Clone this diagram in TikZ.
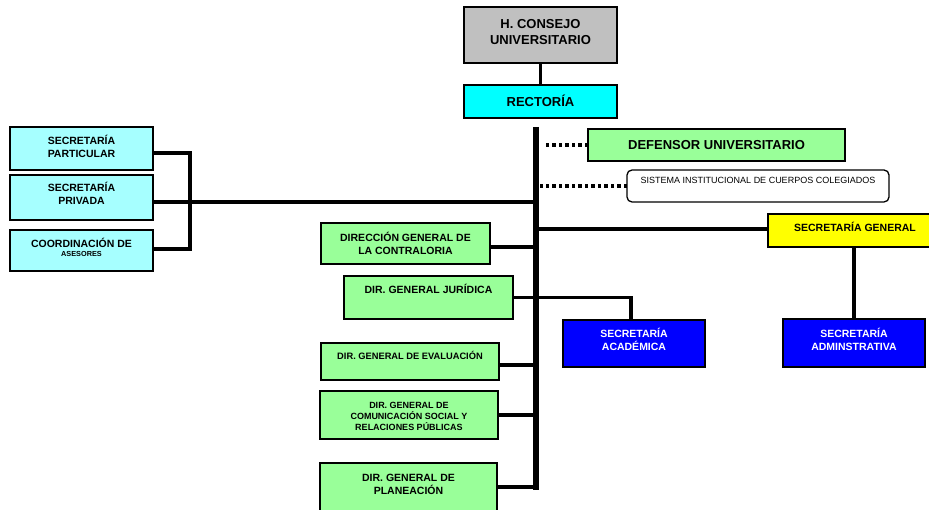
\documentclass[tikz,border=0pt]{standalone}
\usepackage{fontspec}
\setmainfont{Liberation Sans}
\usetikzlibrary{calc}
\definecolor{cgray}{HTML}{C0C0C0}
\definecolor{ccyan}{HTML}{00FFFF}
\definecolor{clcyan}{HTML}{A6FFFF}
\definecolor{cgreen}{HTML}{99FF99}
\definecolor{cyell}{HTML}{FFFF00}
\definecolor{cblue}{HTML}{0000FF}
\newcommand{\fbig}{\fontsize{13}{15.6}\selectfont}
\newcommand{\fmid}{\fontsize{10.5}{12.6}\selectfont}
\newcommand{\fsml}{\fontsize{9}{10.8}\selectfont}
% #1 width, #2 height, #3 top pad, #4 text
\newcommand{\tbox}[4]{\parbox[c][#2pt][t]{#1pt}{\centering\vspace*{#3pt}\rule{0pt}{0.95em}#4}}
\tikzset{
  box/.style={draw=black, line width=1.6pt, anchor=north west, inner sep=0pt, outer sep=0pt, font=\bfseries\fmid},
  conn/.style={line width=3.2pt},
  trunk/.style={line width=5.5pt},
  dots/.style={line width=3.5pt, dash pattern=on 3.5pt off 3pt},
}
\begin{document}
\begin{tikzpicture}[x=1pt,y=-1pt]
\clip (0,0) rectangle (929,510);
\fill[white] (0,0) rectangle (929,510);

% top
\node[box, fill=cgray] (consejo) at (464,7) {\tbox{153}{56}{11.5}{\fbig H. CONSEJO\\UNIVERSITARIO}};
\node[box, fill=ccyan] (rectoria) at (464,85) {\tbox{153}{33}{10}{\fbig RECTORÍA}};

% left column
\node[box, fill=clcyan] (particular) at (10,127) {\tbox{143}{43}{7.5}{SECRETARÍA\\PARTICULAR}};
\node[box, fill=clcyan] (privada) at (10,175) {\tbox{143}{45}{6.5}{SECRETARÍA\\PRIVADA}};
\node[box, fill=clcyan] (coord) at (10,230) {\tbox{143}{41}{7.5}{COORDINACIÓN DE\\[-3.6pt]{\fontsize{7.3}{9}\selectfont ASESORES}}};

% right side
\node[box, fill=cgreen] (defensor) at (588,129) {\tbox{257}{32}{10.5}{\fbig DEFENSOR UNIVERSITARIO}};
\node[box, fill=white, rounded corners=5pt, line width=1.3pt, font=\fsml] (sistema) at (627,170) {\tbox{262}{32}{4.9}{SISTEMA INSTITUCIONAL DE CUERPOS COLEGIADOS}};
\node[box, fill=cyell] (secgeneral) at (768,214) {\tbox{174}{33}{7.5}{SECRETARÍA GENERAL}};
\node[box, fill=cblue, text=white] (admin) at (783,319) {\tbox{142}{48}{8.5}{SECRETARÍA\\ADMINSTRATIVA}};
\node[box, fill=cblue, text=white] (academica) at (563,320) {\tbox{142}{47}{7.5}{SECRETARÍA\\ACADÉMICA}};

% direcciones
\node[box, fill=cgreen] (contraloria) at (321,223) {\tbox{169}{41}{8.5}{DIRECCIÓN GENERAL DE\\LA CONTRALORIA}};
\node[box, fill=cgreen] (juridica) at (344,276) {\tbox{169}{43}{7.5}{DIR. GENERAL JURÍDICA}};
\node[box, fill=cgreen, font=\bfseries\fontsize{9.3}{11.2}\selectfont] (evaluacion) at (321,343) {\tbox{178}{37}{7.8}{DIR. GENERAL DE EVALUACIÓN}};
\node[box, fill=cgreen, font=\bfseries\fsml] (comunicacion) at (320,391) {\tbox{178}{48}{8.9}{DIR. GENERAL DE\\COMUNICACIÓN SOCIAL Y\\RELACIONES PÚBLICAS}};
\node[box, fill=cgreen] (planeacion) at (320,463) {\tbox{177}{52}{8.5}{DIR. GENERAL DE\\PLANEACIÓN}};

% connectors
\coordinate (trunktop) at (536,127);
\coordinate (trunkbot) at (536,489.5);
\draw[conn, line width=3.8pt] (consejo.south) -- (rectoria.north);
\draw[trunk] (trunktop) -- (trunkbot);

\coordinate (pa) at ($(particular.east)+(0,4.5)$);
\coordinate (co) at ($(coord.east)+(0,-1.5)$);
\coordinate (pv) at ($(privada.east)+(0,4.5)$);
\draw[conn] (pa) -- ++(37,0) |- (co);
\draw[conn] (pv) -- (pv -| trunktop);

\coordinate (ct) at ($(contraloria.east)+(0,3.5)$);
\draw[conn] (ct) -- (ct -| trunktop);
\draw[conn] (juridica.east) -| ([xshift=-3pt]academica.north);
\coordinate (ev) at ($(evaluacion.east)+(0,3.5)$);
\draw[conn] (ev) -- (ev -| trunktop);
\draw[conn] (comunicacion.east) -- (comunicacion.east -| trunktop);
\coordinate (pl) at ($(planeacion.east)+(0,-2)$);
\draw[conn] (pl) -- (pl -| trunktop);

\coordinate (sg) at ($(secgeneral.west)+(0,-1.5)$);
\draw[conn] (sg) -- (sg -| trunktop);
\draw[conn] (admin.north |- secgeneral.south) -- (admin.north);

\coordinate (dfend) at (545,145);
\draw[dots] (defensor.west) -- (dfend);
\coordinate (siend) at (540,186);
\draw[dots] (sistema.west) -- (siend);
\end{tikzpicture}
\end{document}
